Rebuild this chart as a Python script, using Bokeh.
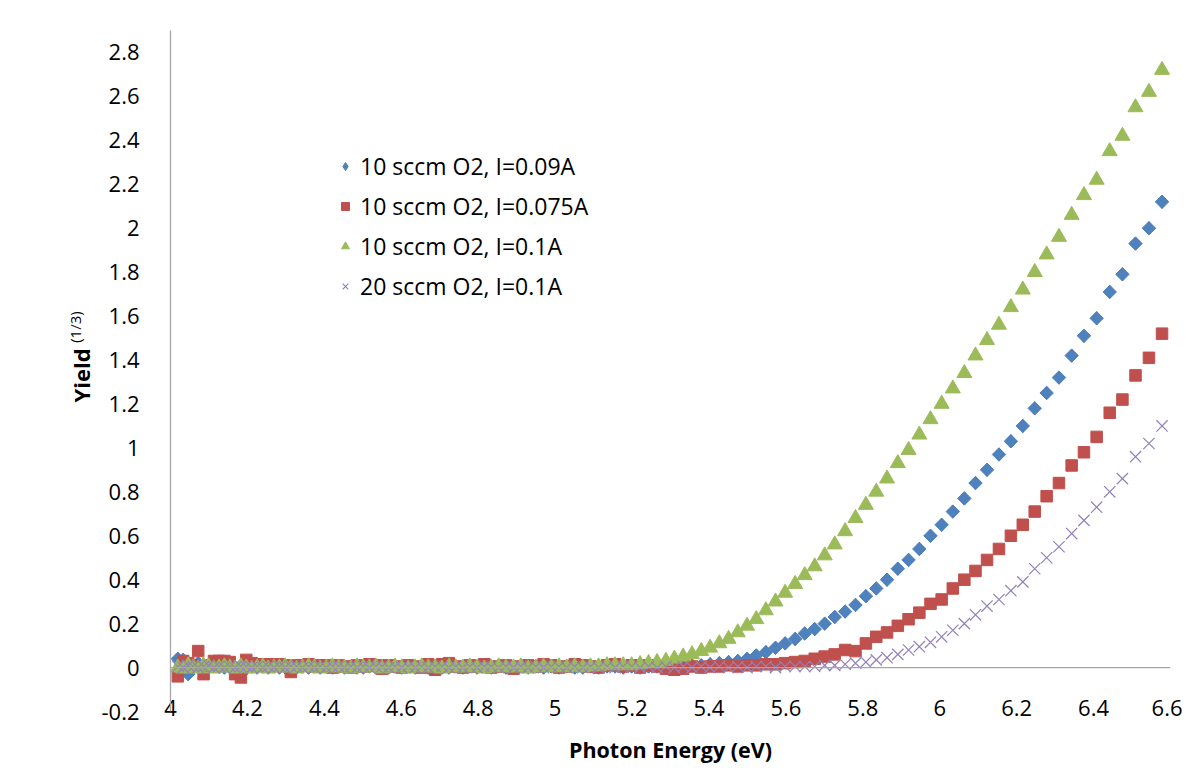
import math
from bokeh.plotting import figure
from bokeh.layouts import row
from bokeh.models import Range1d, FixedTicker, Span, Legend, LegendItem
from bokeh.core.properties import value
from bokeh.embed import file_html
from bokeh.resources import INLINE

# Photon energy (eV) of each measured point
energy = [
    4.019, 4.033, 4.046, 4.059, 4.072, 4.086, 4.099, 4.113, 4.126, 4.140,
    4.154, 4.168, 4.183, 4.197, 4.211, 4.225, 4.240, 4.254, 4.269, 4.283,
    4.298, 4.313, 4.328, 4.343, 4.359, 4.374, 4.389, 4.405, 4.421, 4.437,
    4.452, 4.469, 4.485, 4.501, 4.517, 4.534, 4.550, 4.567, 4.584, 4.601,
    4.618, 4.636, 4.653, 4.670, 4.688, 4.706, 4.724, 4.742, 4.760, 4.778,
    4.797, 4.816, 4.834, 4.853, 4.872, 4.892, 4.911, 4.930, 4.950, 4.970,
    4.990, 5.010, 5.030, 5.051, 5.072, 5.092, 5.113, 5.135, 5.156, 5.177,
    5.199, 5.221, 5.243, 5.265, 5.288, 5.310, 5.333, 5.356, 5.380, 5.403,
    5.427, 5.451, 5.475, 5.499, 5.523, 5.548, 5.573, 5.598, 5.624, 5.649,
    5.675, 5.701, 5.727, 5.754, 5.781, 5.808, 5.835, 5.863, 5.891, 5.919,
    5.947, 5.976, 6.005, 6.034, 6.064, 6.093, 6.123, 6.154, 6.185, 6.216,
    6.247, 6.278, 6.310, 6.343, 6.375, 6.408, 6.442, 6.475, 6.509, 6.544,
    6.578,
]

# 10 sccm O2, I=0.09A
yield_10_009 = [
    0.040, 0.035, -0.030, 0.010, 0.020, 0.005, 0.000, 0.010, 0.005, 0.000,
    0.005, 0.000, 0.010, -0.005, 0.005, 0.000, 0.005, 0.000, 0.005, 0.000,
    0.000, 0.005, 0.000, 0.005, 0.000, 0.005, 0.000, 0.005, 0.000, 0.005,
    0.000, 0.005, 0.000, 0.000, 0.005, 0.000, 0.005, 0.000, 0.005, 0.000,
    0.005, 0.000, 0.005, 0.000, 0.005, 0.000, 0.000, 0.005, 0.000, 0.005,
    0.000, 0.005, 0.000, 0.005, 0.000, 0.000, 0.005, 0.000, 0.005, 0.000,
    0.005, 0.000, 0.005, 0.000, 0.000, 0.005, 0.000, 0.005, 0.005, 0.000,
    0.005, 0.000, 0.005, 0.005, 0.000, 0.005, 0.005, 0.010, 0.010, 0.015,
    0.020, 0.025, 0.030, 0.040, 0.055, 0.070, 0.090, 0.110, 0.130, 0.155,
    0.175, 0.200, 0.230, 0.255, 0.285, 0.325, 0.360, 0.400, 0.450, 0.490,
    0.540, 0.600, 0.650, 0.710, 0.770, 0.840, 0.900, 0.970, 1.030, 1.100,
    1.180, 1.250, 1.320, 1.420, 1.510, 1.590, 1.710, 1.790, 1.930, 2.000,
    2.120,
]

# 10 sccm O2, I=0.075A
yield_10_0075 = [
    -0.040, 0.030, 0.020, 0.010, 0.075, -0.030, 0.010, 0.030, 0.030, 0.030,
    0.025, -0.030, -0.045, 0.035, 0.020, 0.015, 0.015, 0.015, 0.010, 0.015,
    0.010, -0.020, 0.010, 0.010, 0.015, 0.005, 0.010, 0.010, 0.000, 0.010,
    0.005, 0.000, 0.010, 0.005, 0.015, 0.010, -0.005, 0.010, 0.005, 0.000,
    0.010, 0.005, 0.000, 0.015, -0.010, 0.015, 0.020, 0.005, 0.000, 0.010,
    0.005, 0.015, 0.000, 0.005, 0.010, -0.005, 0.005, 0.010, 0.005, 0.015,
    0.010, 0.000, 0.005, 0.015, 0.010, 0.005, 0.000, 0.010, 0.015, 0.005,
    0.010, 0.000, 0.010, 0.005, -0.005, -0.010, -0.005, 0.005, 0.000, 0.005,
    0.005, 0.010, 0.005, 0.010, 0.010, 0.015, 0.015, 0.020, 0.025, 0.030,
    0.040, 0.050, 0.060, 0.080, 0.075, 0.110, 0.140, 0.160, 0.190, 0.220,
    0.250, 0.290, 0.310, 0.360, 0.400, 0.440, 0.490, 0.540, 0.600, 0.650,
    0.710, 0.780, 0.840, 0.920, 0.980, 1.050, 1.160, 1.220, 1.330, 1.410,
    1.520,
]

# 10 sccm O2, I=0.1A
yield_10_01 = [
    0.000, -0.005, 0.010, 0.000, -0.005, 0.010, 0.005, -0.005, 0.000, 0.005,
    0.000, -0.005, 0.005, 0.000, -0.005, 0.000, 0.005, -0.005, 0.000, 0.000,
    0.005, 0.000, -0.005, 0.000, 0.005, 0.000, -0.005, 0.000, 0.005, 0.000,
    0.000, -0.005, 0.005, 0.000, 0.000, 0.005, -0.005, 0.000, 0.005, 0.000,
    -0.005, 0.000, 0.005, 0.000, 0.000, -0.005, 0.005, 0.000, 0.000, 0.005,
    0.000, -0.005, 0.000, 0.005, 0.000, 0.000, 0.005, -0.005, 0.000, 0.005,
    0.000, 0.005, 0.000, 0.005, 0.000, 0.005, 0.005, 0.010, 0.010, 0.010,
    0.010, 0.015, 0.020, 0.025, 0.030, 0.040, 0.050, 0.060, 0.075, 0.090,
    0.110, 0.130, 0.160, 0.190, 0.220, 0.260, 0.300, 0.340, 0.380, 0.420,
    0.460, 0.510, 0.560, 0.620, 0.680, 0.740, 0.800, 0.860, 0.930, 0.990,
    1.060, 1.130, 1.200, 1.270, 1.340, 1.420, 1.490, 1.560, 1.640, 1.720,
    1.800, 1.880, 1.960, 2.060, 2.150, 2.220, 2.350, 2.420, 2.550, 2.620,
    2.720,
]

# 20 sccm O2, I=0.1A
yield_20_01 = [
    0.005, 0.000, 0.010, 0.005, 0.000, 0.005, 0.010, 0.000, 0.005, 0.000,
    0.005, 0.000, 0.005, 0.005, 0.000, 0.005, 0.000, 0.005, 0.000, 0.005,
    0.000, 0.005, 0.005, 0.000, 0.005, 0.000, 0.005, 0.000, 0.005, 0.005,
    0.000, 0.005, 0.000, 0.005, 0.000, 0.005, 0.005, 0.000, 0.005, 0.000,
    0.005, 0.000, 0.005, 0.000, 0.005, 0.005, 0.000, 0.005, 0.000, 0.005,
    0.000, 0.005, 0.005, 0.000, 0.005, 0.000, 0.005, 0.000, 0.005, 0.000,
    0.005, 0.005, 0.000, 0.005, 0.000, 0.005, 0.000, 0.005, 0.000, 0.005,
    0.005, 0.000, 0.005, 0.000, 0.005, 0.000, 0.005, 0.000, 0.005, 0.000,
    0.005, 0.000, 0.005, 0.000, 0.005, 0.005, 0.000, 0.005, 0.005, 0.005,
    0.005, 0.010, 0.010, 0.015, 0.020, 0.025, 0.035, 0.045, 0.060, 0.080,
    0.095, 0.115, 0.140, 0.170, 0.200, 0.240, 0.280, 0.310, 0.350, 0.390,
    0.450, 0.500, 0.550, 0.610, 0.670, 0.730, 0.800, 0.860, 0.960, 1.020,
    1.100,
]

series_labels = [
    "10 sccm O2, I=0.09A",
    "10 sccm O2, I=0.075A",
    "10 sccm O2, I=0.1A",
    "20 sccm O2, I=0.1A",
]

x_ticks = [4, 4.2, 4.4, 4.6, 4.8, 5, 5.2, 5.4, 5.6, 5.8, 6, 6.2, 6.4, 6.6]
x_tick_labels = ["4", "4.2", "4.4", "4.6", "4.8", "5", "5.2", "5.4", "5.6",
                 "5.8", "6", "6.2", "6.4", "6.6"]
y_ticks = [-0.2, 0, 0.2, 0.4, 0.6, 0.8, 1, 1.2, 1.4, 1.6, 1.8, 2, 2.2, 2.4,
           2.6, 2.8]
y_tick_labels = ["-0.2", "0", "0.2", "0.4", "0.6", "0.8", "1", "1.2", "1.4",
                 "1.6", "1.8", "2", "2.2", "2.4", "2.6", "2.8"]

x_title = "Photon Energy (eV)"
y_title = "Yield"
y_title_sup = "(1/3)"

FONT = "Open Sans"
AXIS_GREY = "#A6A6A6"
BLUE, RED, GREEN, PURPLE = "#4F81BD", "#C0504D", "#9BBB59", "#9381BA"

TOP, BOTTOM, TOTAL_H = 30, 54, 766
TITLE_W, TOTAL_W = 95, 1182

# ---- main chart ----
p = figure(width=TOTAL_W - TITLE_W, height=TOTAL_H, output_backend="svg",
           toolbar_location=None,
           x_range=Range1d(4, 6.6), y_range=Range1d(-0.2, 2.9),
           min_border_left=170 - TITLE_W, min_border_right=12,
           min_border_top=TOP, min_border_bottom=BOTTOM)
p.grid.visible = False
p.outline_line_color = None
p.background_fill_color = "white"
p.border_fill_color = "white"

# y axis
p.yaxis.ticker = FixedTicker(ticks=y_ticks)
p.yaxis.major_label_overrides = dict(zip(y_ticks, y_tick_labels))
p.yaxis.axis_line_color = AXIS_GREY
p.yaxis.axis_line_width = 1.3
p.yaxis.major_tick_line_color = None
p.yaxis.minor_tick_line_color = None
p.yaxis.major_label_standoff = 25
p.yaxis.major_label_text_font = FONT
p.yaxis.major_label_text_font_size = "22px"
p.yaxis.major_label_text_color = "black"

# x axis (labels at the bottom, axis line drawn at y = 0)
p.xaxis.ticker = FixedTicker(ticks=x_ticks)
p.xaxis.major_label_overrides = dict(zip(x_ticks, x_tick_labels))
p.xaxis.axis_line_color = None
p.xaxis.major_tick_line_color = None
p.xaxis.minor_tick_line_color = None
p.xaxis.major_label_standoff = -18
p.xaxis.major_label_text_font = FONT
p.xaxis.major_label_text_font_size = "22px"
p.xaxis.major_label_text_color = "black"
p.xaxis.axis_label = x_title
p.xaxis.axis_label_text_font = FONT
p.xaxis.axis_label_text_font_size = "21.5px"
p.xaxis.axis_label_text_font_style = "bold"
p.xaxis.axis_label_text_color = "black"
p.xaxis.axis_label_standoff = 16

p.add_layout(Span(location=0, dimension="width", line_color=AXIS_GREY,
                  line_width=1.3))

# legend key for the diamond series, hidden under the rotated squares
r1_key = p.scatter(energy, yield_10_009, marker="diamond", size=13,
                   fill_color=BLUE, line_color=BLUE)
r1 = p.scatter(energy, yield_10_009, marker="square", angle=math.pi / 4,
               size=9.5, fill_color=BLUE, line_color=BLUE)
r2 = p.scatter(energy, yield_10_0075, marker="square", size=11.5,
               fill_color=RED, line_color=RED)
r3 = p.scatter(energy, yield_10_01, marker="triangle", size=15,
               fill_color=GREEN, line_color=GREEN)
r4 = p.scatter(energy, yield_20_01, marker="x", size=16,
               line_color=PURPLE, line_width=1.2)

legend = Legend(items=[LegendItem(label=lab, renderers=[r])
                       for lab, r in zip(series_labels, [r1_key, r2, r3, r4])],
                location=(165, 409))
legend.border_line_color = None
legend.background_fill_alpha = 0
legend.label_text_font = FONT
legend.label_text_font_size = "23px"
legend.label_text_color = "black"
legend.glyph_width = 20
legend.glyph_height = 30
legend.label_height = 30
legend.spacing = 8
legend.padding = 0
legend.margin = 0
legend.label_standoff = 5
p.add_layout(legend)

# ---- strip holding the y-axis title (with superscript) ----
t = figure(width=TITLE_W, height=TOTAL_H, output_backend="svg",
           toolbar_location=None, x_axis_type=None, y_axis_type=None,
           x_range=Range1d(0, TITLE_W), y_range=p.y_range,
           min_border_left=0, min_border_right=0,
           min_border_top=TOP, min_border_bottom=BOTTOM)
t.grid.visible = False
t.outline_line_color = None
t.background_fill_color = "white"
t.border_fill_color = "white"
t.text(x=[80], y=[1.33], text=[y_title], angle=math.pi / 2,
       text_align="center", text_baseline="middle", text_font=value(FONT),
       text_font_size="22px", text_font_style="bold", text_color="black")
t.text(x=[74], y=[1.55], text=[y_title_sup], angle=math.pi / 2,
       text_align="center", text_baseline="middle", text_font=value(FONT),
       text_font_size="15px", text_color="black")

layout = row(t, p, spacing=0)
open("out.html", "w").write(file_html(layout, INLINE))
